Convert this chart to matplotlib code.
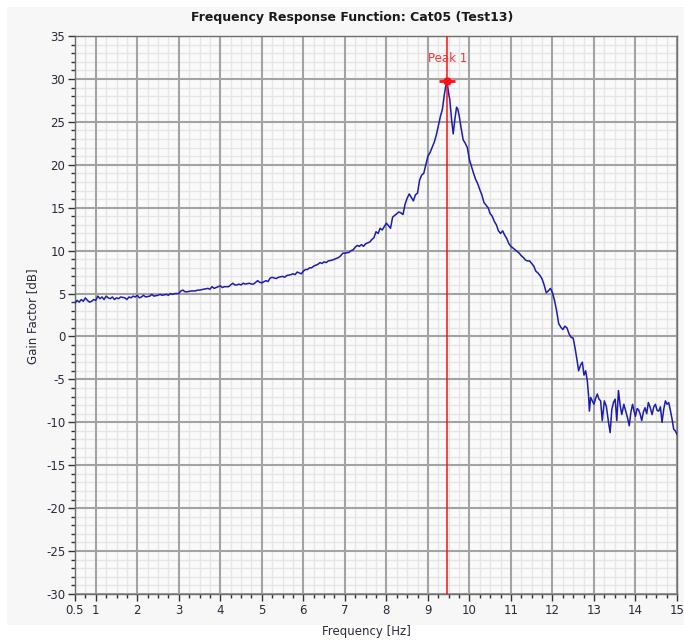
import matplotlib
matplotlib.use("Agg")
import matplotlib.pyplot as plt
from matplotlib.ticker import FixedLocator
from matplotlib.patches import Rectangle

plt.rcParams['font.family'] = ['DejaVu Sans']
plt.rcParams['axes.unicode_minus'] = False

title = "Frequency Response Function: Cat05 (Test13)"
x_label = "Frequency [Hz]"
y_label = "Gain Factor [dB]"
peak_label = "Peak 1"
peak_freq = 9.47
peak_gain = 29.7

x_ticks = [0.5, 1, 2, 3, 4, 5, 6, 7, 8, 9, 10, 11, 12, 13, 14, 15]
x_tick_labels = ["0.5", "1", "2", "3", "4", "5", "6", "7", "8", "9", "10",
                 "11", "12", "13", "14", "15"]
y_ticks = [-30, -25, -20, -15, -10, -5, 0, 5, 10, 15, 20, 25, 30, 35]

freq = [0.50, 0.55, 0.60, 0.65, 0.70, 0.75, 0.80, 0.85, 0.90, 0.95,
        1.00, 1.05, 1.10, 1.15, 1.20, 1.25, 1.30, 1.35, 1.40, 1.45,
        1.50, 1.55, 1.60, 1.70, 1.75, 1.80, 1.85, 1.90, 1.95, 2.00,
        2.05, 2.10, 2.15, 2.20, 2.30, 2.35, 2.40, 2.50, 2.55, 2.60,
        2.70, 2.75, 2.80, 2.85, 2.90, 3.00, 3.05, 3.10, 3.15, 3.20,
        3.30, 3.40, 3.45, 3.50, 3.60, 3.70, 3.75, 3.80, 3.85, 3.90,
        4.00, 4.05, 4.10, 4.20, 4.25, 4.30, 4.35, 4.40, 4.45, 4.50,
        4.55, 4.60, 4.70, 4.75, 4.80, 4.85, 4.90, 4.95, 5.00, 5.10,
        5.15, 5.20, 5.25, 5.30, 5.35, 5.40, 5.50, 5.55, 5.60, 5.70,
        5.75, 5.80, 5.85, 5.90, 5.95, 6.00, 6.05, 6.10, 6.15, 6.20,
        6.25, 6.30, 6.35, 6.40, 6.45, 6.50, 6.55, 6.60, 6.70, 6.75,
        6.80, 6.85, 6.90, 6.95, 7.00, 7.05, 7.10, 7.15, 7.20, 7.25,
        7.30, 7.35, 7.40, 7.45, 7.50, 7.55, 7.60, 7.65, 7.70, 7.75,
        7.80, 7.85, 7.90, 7.95, 8.00, 8.05, 8.10, 8.15, 8.20, 8.25,
        8.30, 8.35, 8.40, 8.45, 8.50, 8.55, 8.60, 8.65, 8.70, 8.75,
        8.80, 8.85, 8.90, 8.95, 9.00, 9.05, 9.10, 9.15, 9.20, 9.25,
        9.30, 9.35, 9.40, 9.45, 9.48, 9.50, 9.53, 9.57, 9.61, 9.65,
        9.69, 9.72, 9.75, 9.80, 9.85, 9.90, 9.95, 10.00, 10.05, 10.10,
        10.15, 10.20, 10.25, 10.30, 10.35, 10.40, 10.45, 10.50, 10.55, 10.60,
        10.65, 10.70, 10.75, 10.80, 10.85, 10.90, 10.95, 11.00, 11.05, 11.10,
        11.15, 11.20, 11.25, 11.30, 11.35, 11.40, 11.45, 11.50, 11.55, 11.60,
        11.65, 11.70, 11.75, 11.80, 11.85, 11.90, 11.95, 12.00, 12.05, 12.10,
        12.15, 12.20, 12.25, 12.30, 12.35, 12.40, 12.45, 12.50, 12.55, 12.60,
        12.63, 12.68, 12.72, 12.76, 12.80, 12.84, 12.87, 12.89, 12.92, 12.96,
        13.00, 13.04, 13.08, 13.12, 13.16, 13.20, 13.25, 13.30, 13.35, 13.39,
        13.43, 13.47, 13.51, 13.55, 13.59, 13.63, 13.67, 13.72, 13.76, 13.81,
        13.85, 13.89, 13.93, 13.97, 14.00, 14.04, 14.07, 14.11, 14.15, 14.19,
        14.23, 14.27, 14.31, 14.35, 14.40, 14.44, 14.48, 14.52, 14.56, 14.60,
        14.64, 14.68, 14.72, 14.76, 14.80, 14.84, 14.88, 14.92, 14.96, 15.00]

gain = [3.9, 4.2, 4.0, 4.3, 4.1, 4.5, 4.2, 4.0, 4.1, 4.3,
        4.2, 4.7, 4.4, 4.6, 4.3, 4.7, 4.5, 4.4, 4.6, 4.3,
        4.5, 4.4, 4.6, 4.5, 4.3, 4.6, 4.5, 4.7, 4.6, 4.8,
        4.5, 4.6, 4.8, 4.6, 4.7, 4.9, 4.7, 4.8, 4.9, 4.8,
        4.9, 4.8, 5.0, 4.9, 5.0, 5.0, 5.3, 5.4, 5.2, 5.2,
        5.3, 5.3, 5.4, 5.4, 5.5, 5.6, 5.5, 5.8, 5.6, 5.7,
        5.9, 5.7, 5.8, 5.8, 6.0, 6.2, 6.0, 6.0, 6.1, 6.0,
        6.2, 6.1, 6.2, 6.1, 6.1, 6.3, 6.5, 6.3, 6.25, 6.5,
        6.4, 6.8, 6.9, 6.8, 6.75, 6.9, 7.0, 6.9, 7.1, 7.2,
        7.3, 7.2, 7.5, 7.4, 7.3, 7.6, 7.8, 7.8, 8.0, 8.0,
        8.2, 8.3, 8.4, 8.6, 8.5, 8.7, 8.6, 8.8, 8.9, 9.0,
        9.1, 9.2, 9.4, 9.7, 9.7, 9.75, 9.8, 10.0, 10.1, 10.4,
        10.6, 10.5, 10.7, 10.5, 10.8, 10.9, 11.0, 11.3, 11.5, 12.2,
        12.0, 12.6, 12.4, 12.8, 13.2, 12.9, 12.6, 13.9, 14.1, 14.3,
        14.5, 14.4, 14.2, 15.4, 16.1, 16.6, 16.2, 15.8, 16.5, 16.7,
        18.2, 18.8, 19.0, 20.0, 21.0, 21.4, 22.0, 22.6, 23.4, 24.5,
        25.6, 26.5, 28.3, 29.7, 29.0, 28.3, 27.5, 25.3, 23.6, 25.3,
        26.7, 26.5, 25.8, 24.3, 22.9, 22.5, 22.0, 20.6, 19.8, 19.0,
        18.3, 17.8, 17.1, 16.5, 15.6, 15.3, 15.0, 14.3, 14.0, 13.4,
        13.0, 12.3, 12.0, 12.3, 11.8, 11.4, 10.8, 10.5, 10.3, 10.1,
        9.9, 9.7, 9.4, 9.2, 8.9, 8.8, 8.8, 8.5, 8.2, 7.6,
        7.4, 7.1, 6.7, 6.0, 5.1, 5.3, 5.6, 5.1, 4.2, 3.0,
        1.5, 1.1, 0.8, 1.2, 1.0, 0.3, -0.1, -0.2, -1.5, -3.0,
        -4.0, -3.3, -3.0, -4.5, -4.0, -5.2, -6.9, -8.7, -7.1, -7.5,
        -7.9, -7.2, -6.7, -7.3, -7.5, -9.8, -7.5, -8.2, -10.0, -11.2,
        -8.5, -7.7, -7.3, -9.8, -6.3, -8.0, -9.1, -7.9, -8.6, -9.5,
        -10.4, -8.8, -7.9, -8.8, -9.3, -8.4, -8.5, -9.0, -9.8, -8.8,
        -8.3, -9.0, -7.7, -8.2, -9.1, -8.2, -7.9, -8.6, -8.7, -8.2,
        -10.0, -8.5, -7.5, -7.9, -7.7, -8.6, -9.6, -10.8, -11.0, -11.4]

W, H = 684, 643
fig = plt.figure(figsize=(W / 100, H / 100), dpi=100, facecolor='white')
fig.patches.append(Rectangle((7 / W, 1 - 625 / H), 1 - 7 / W, 618 / H,
                             transform=fig.transFigure, facecolor='#f7f7f7',
                             edgecolor='none', zorder=-10))

left, right, top, bottom = 75, 677, 36, 594
ax = fig.add_axes([left / W, (H - bottom) / H, (right - left) / W, (bottom - top) / H])
ax.set_facecolor('#fafafa')

ax.set_xlim(0.5, 15)
ax.set_ylim(-30, 35)

x_minor = [0.5 + 0.25 * i for i in range(59) if (0.5 + 0.25 * i) not in x_ticks]
y_minor = [v for v in range(-30, 36) if v not in y_ticks]

ax.xaxis.set_major_locator(FixedLocator(x_ticks))
ax.set_xticklabels(x_tick_labels)
ax.xaxis.set_minor_locator(FixedLocator(x_minor))
ax.yaxis.set_major_locator(FixedLocator(y_ticks))
ax.yaxis.set_minor_locator(FixedLocator(y_minor))

# grid: minor lines first, then major lines on top
for v in x_minor:
    ax.axvline(v, color='#e6e6e6', linewidth=1.0, zorder=0.2)
for v in y_minor:
    ax.axhline(v, color='#e6e6e6', linewidth=1.0, zorder=0.2)
for v in x_ticks:
    ax.axvline(v, color='#a3a3a3', linewidth=1.5, zorder=0.3)
for v in y_ticks:
    ax.axhline(v, color='#a3a3a3', linewidth=1.5, zorder=0.3)

text_color = '#2a2a3a'
ax.tick_params(which='major', length=5, width=1, color='#333333', labelsize=8.5,
               labelcolor=text_color, pad=2)
ax.tick_params(which='minor', length=3, width=1, color='#333333')
for s in ax.spines.values():
    s.set_color('#6e6e6e')
    s.set_linewidth(1.0)

ax.plot(freq, gain, color='#1c1cb0', linewidth=1.1, zorder=3)

ax.axvline(peak_freq, color='#ff1010', linewidth=1.1, zorder=4)
ax.plot([peak_freq], [peak_gain], marker='_', markersize=12, markeredgewidth=2,
        color='#ff1010', zorder=5)
ax.plot([peak_freq], [peak_gain], marker='o', markersize=5, color='#ff1010', zorder=5)
ax.text(peak_freq, 31.6, peak_label, color='#ff3030', fontsize=8.5,
        ha='center', va='bottom', zorder=6)

fig.text(352 / W, 1 - 17 / H, title, ha='center', va='center', fontsize=9,
         fontweight='bold', color='#1a1a1a')
fig.text(366 / W, 1 - 631 / H, x_label, ha='center', va='center', fontsize=8.5,
         color=text_color)
fig.text(33 / W, 1 - 316 / H, y_label, ha='center', va='center', fontsize=8.5,
         rotation=90, color=text_color)

fig.savefig('out.png', dpi=100, facecolor=fig.get_facecolor())
